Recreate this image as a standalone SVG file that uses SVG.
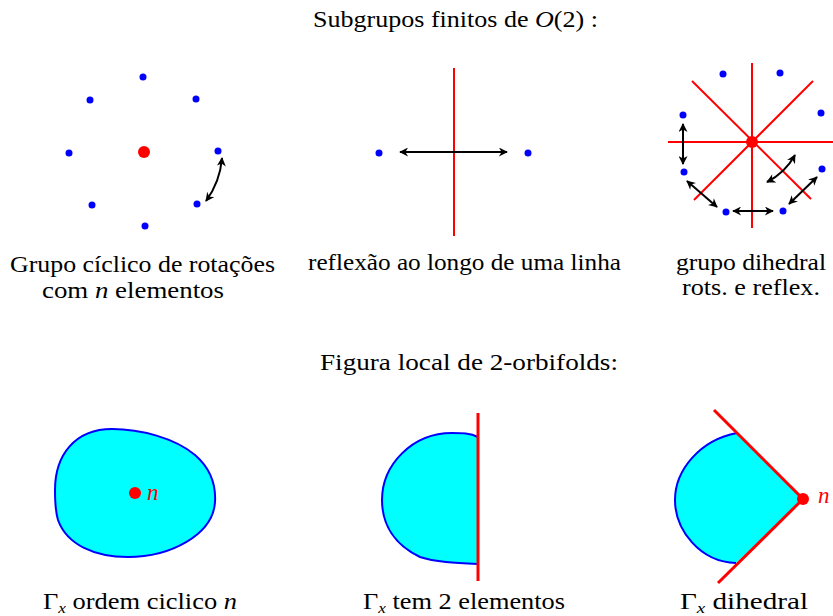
<svg xmlns="http://www.w3.org/2000/svg" width="833" height="616" viewBox="0 0 833 616">
<defs>
<marker id="ah" viewBox="0 0 10 10" refX="9" refY="5" markerWidth="10" markerHeight="9" orient="auto-start-reverse" markerUnits="userSpaceOnUse">
<path d="M0,0 L10,5 L0,10 L3,5 Z" fill="#000"/>
</marker>
</defs>
<rect width="833" height="616" fill="#fff"/>
<text x="313" y="27" font-family="Liberation Serif" font-size="23" textLength="285" lengthAdjust="spacingAndGlyphs">Subgrupos finitos de <tspan font-style="italic">O</tspan>(2) :</text>

<g id="cyclic" fill="#0000ff">
<circle cx="143" cy="77" r="3.5"/>
<circle cx="90" cy="100" r="3.5"/>
<circle cx="196" cy="99" r="3.5"/>
<circle cx="69" cy="153" r="3.5"/>
<circle cx="218" cy="151" r="3.5"/>
<circle cx="92" cy="205" r="3.5"/>
<circle cx="197" cy="204" r="3.5"/>
<circle cx="145" cy="226" r="3.5"/>
<circle cx="144" cy="152" r="6" fill="#ff0000"/>
<text x="10" y="272" font-family="Liberation Serif" font-size="23" fill="#000" textLength="265" lengthAdjust="spacingAndGlyphs">Grupo cíclico de rotações</text>
<text x="42" y="298" font-family="Liberation Serif" font-size="23" fill="#000" textLength="182" lengthAdjust="spacingAndGlyphs">com <tspan font-style="italic">n</tspan> elementos</text>
</g>

<g id="reflection" fill="#0000ff">
<line x1="454" y1="68" x2="454" y2="236" stroke="#ff0000" stroke-width="2"/>
<circle cx="379" cy="153" r="3.5"/>
<circle cx="528" cy="153" r="3.5"/>
<text x="308" y="270" font-family="Liberation Serif" font-size="23" fill="#000" textLength="313" lengthAdjust="spacingAndGlyphs">reflexão ao longo de uma linha</text>
</g>

<g id="dihedral" fill="#0000ff">
<g stroke="#ff0000" stroke-width="2">
<line x1="752" y1="63" x2="752" y2="228"/>
<line x1="668" y1="142" x2="833" y2="142"/>
<line x1="692" y1="81" x2="811" y2="199"/>
<line x1="813" y1="81" x2="694" y2="200"/>
</g>
<circle cx="752" cy="142" r="6" fill="#ff0000"/>
<circle cx="723" cy="74" r="3.5"/>
<circle cx="780" cy="73" r="3.5"/>
<circle cx="821" cy="113" r="3.5"/>
<circle cx="683" cy="115" r="3.5"/>
<circle cx="684" cy="172" r="3.5"/>
<circle cx="822" cy="169" r="3.5"/>
<circle cx="726" cy="212" r="3.5"/>
<circle cx="783" cy="211" r="3.5"/>
<text x="676" y="270" font-family="Liberation Serif" font-size="23" fill="#000" textLength="150" lengthAdjust="spacingAndGlyphs">grupo dihedral</text>
<text x="682" y="295" font-family="Liberation Serif" font-size="23" fill="#000" textLength="138" lengthAdjust="spacingAndGlyphs">rots. e reflex.</text>
</g>

<g id="connectors" stroke="#000" stroke-width="2" fill="none" marker-start="url(#ah)" marker-end="url(#ah)">
<path d="M206,201 Q220,182 222,158"/>
<line x1="400" y1="152" x2="507" y2="152"/>
<line x1="683" y1="124" x2="683" y2="164"/>
<line x1="687" y1="181" x2="717" y2="207"/>
<line x1="733" y1="211" x2="773" y2="211"/>
<line x1="789" y1="204" x2="817" y2="177"/>
<path d="M767,182 Q785,173 795,155"/>
</g>

<text x="320" y="370" font-family="Liberation Serif" font-size="23" textLength="298" lengthAdjust="spacingAndGlyphs">Figura local de 2-orbifolds:</text>

<g id="orb-cyclic">
<path d="M55,490 C55,455 75,429 112,429 C140,429 175,438 195,455 C210,468 216,485 215,502 C213,535 170,557 128,557 C95,557 67,545 58,520 C55,510 55,500 55,490 Z" fill="#00ffff" stroke="#0000ff" stroke-width="2"/>
<circle cx="135" cy="493" r="6" fill="#ff0000"/>
<text x="147" y="500" font-family="Liberation Serif" font-style="italic" font-size="23" fill="#ff0000">n</text>
<text x="43" y="609" font-family="Liberation Serif" font-size="23" textLength="194" lengthAdjust="spacingAndGlyphs">Γ<tspan font-style="italic" font-size="15" dy="4">x</tspan><tspan dy="-4"> ordem ciclico </tspan><tspan font-style="italic">n</tspan></text>
</g>

<g id="orb-reflection">
<path d="M478,437 C470,433 462,433 452,433 C412,433 382,465 382,500 C382,525 395,545 420,557 C435,562 455,563 478,564" fill="#00ffff" stroke="#0000ff" stroke-width="2"/>
<line x1="478" y1="413" x2="478" y2="581" stroke="#ff0000" stroke-width="3"/>
<text x="363" y="609" font-family="Liberation Serif" font-size="23" textLength="202" lengthAdjust="spacingAndGlyphs">Γ<tspan font-style="italic" font-size="15" dy="4">x</tspan><tspan dy="-4"> tem 2 elementos</tspan></text>
</g>

<g id="orb-dihedral">
<path d="M737,433 C700,440 675,470 675,500 C675,530 700,562 736,563 L803,499 Z" fill="#00ffff"/>
<path d="M737,433 C700,440 675,470 675,500 C675,530 700,562 736,563" fill="none" stroke="#0000ff" stroke-width="2"/>
<line x1="714" y1="410" x2="803" y2="499" stroke="#ff0000" stroke-width="3"/>
<line x1="718" y1="583" x2="803" y2="499" stroke="#ff0000" stroke-width="3"/>
<circle cx="803" cy="499" r="6" fill="#ff0000"/>
<text x="818" y="503" font-family="Liberation Serif" font-style="italic" font-size="23" fill="#ff0000">n</text>
<text x="680" y="609" font-family="Liberation Serif" font-size="23" textLength="128" lengthAdjust="spacingAndGlyphs">Γ<tspan font-style="italic" font-size="15" dy="4">x</tspan><tspan dy="-4"> dihedral</tspan></text>
</g>
</svg>
